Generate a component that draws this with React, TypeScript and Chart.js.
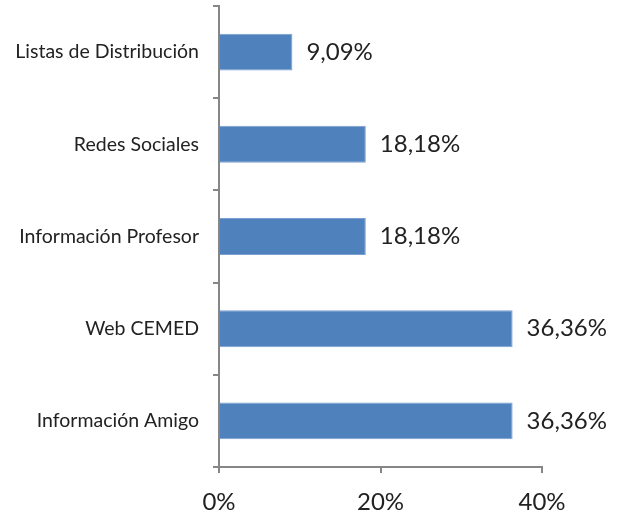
import React, { useEffect, useRef } from "react";
import { Chart, registerables } from "chart.js";

Chart.register(...registerables);

const categories = [
  "Listas de Distribución",
  "Redes Sociales",
  "Información Profesor",
  "Web CEMED",
  "Información Amigo",
];
const values = [9.09, 18.18, 18.18, 36.36, 36.36];
const valueLabels = ["9,09%", "18,18%", "18,18%", "36,36%", "36,36%"];
const xTicks = [0, 20, 40];

const FONT = "Lato, 'Open Sans', sans-serif";

const dataLabelPlugin = {
  id: "dataLabelPlugin",
  afterDatasetsDraw(chart: any) {
    const ctx = chart.ctx;
    const meta = chart.getDatasetMeta(0);
    ctx.save();
    ctx.font = `24px ${FONT}`;
    ctx.fillStyle = "#222222";
    ctx.textAlign = "left";
    ctx.textBaseline = "middle";
    meta.data.forEach((bar: any, i: number) => {
      ctx.fillText(valueLabels[i], bar.x + 14, bar.y);
    });
    ctx.restore();
  },
};

export default function App() {
  const ref = useRef<HTMLCanvasElement | null>(null);
  useEffect(() => {
    if (!ref.current) return;
    const chart = new Chart(ref.current, {
      type: "bar",
      data: {
        labels: categories,
        datasets: [
          {
            data: values,
            backgroundColor: "#4F81BD",
            borderColor: "#7A9FD0",
            borderWidth: 1,
            barPercentage: 0.4,
            categoryPercentage: 1,
          },
        ],
      },
      options: {
        indexAxis: "y",
        animation: false,
        responsive: false,
        maintainAspectRatio: false,
        layout: { padding: { top: 6, right: 85, left: 0, bottom: 0 } },
        plugins: {
          legend: { display: false },
          tooltip: { enabled: false },
        },
        scales: {
          y: {
            type: "category",
            afterFit: (s: any) => {
              s.width = 219;
              s.paddingTop = 0;
              s.paddingBottom = 0;
            },
            grid: {
              drawOnChartArea: false,
              drawTicks: true,
              tickLength: 6,
              color: "#868686",
              lineWidth: 2,
              offset: true,
            },
            border: { color: "#868686", width: 2 },
            ticks: {
              color: "#222222",
              padding: 14,
              font: { family: FONT, size: 19.5 },
            },
          },
          x: {
            type: "linear",
            min: 0,
            max: 40,
            afterFit: (s: any) => {
              s.height = 48;
              s.paddingLeft = 0;
              s.paddingRight = 0;
            },
            afterBuildTicks: (s: any) => {
              s.ticks = xTicks.map((v) => ({ value: v }));
            },
            grid: {
              drawOnChartArea: false,
              drawTicks: true,
              tickLength: 6,
              color: "#868686",
              lineWidth: 2,
            },
            border: { color: "#868686", width: 2 },
            ticks: {
              color: "#222222",
              padding: 15,
              font: { family: FONT, size: 24 },
              callback: (v: any) => `${v}%`,
            },
          },
        },
      },
      plugins: [dataLabelPlugin],
    });
    return () => chart.destroy();
  }, []);
  return (
    <div style={{ position: "fixed", left: 0, top: 0, width: 627, height: 515, background: "#fff" }}>
      <canvas ref={ref} width={627} height={515} style={{ width: 627, height: 515 }} />
    </div>
  );
}
